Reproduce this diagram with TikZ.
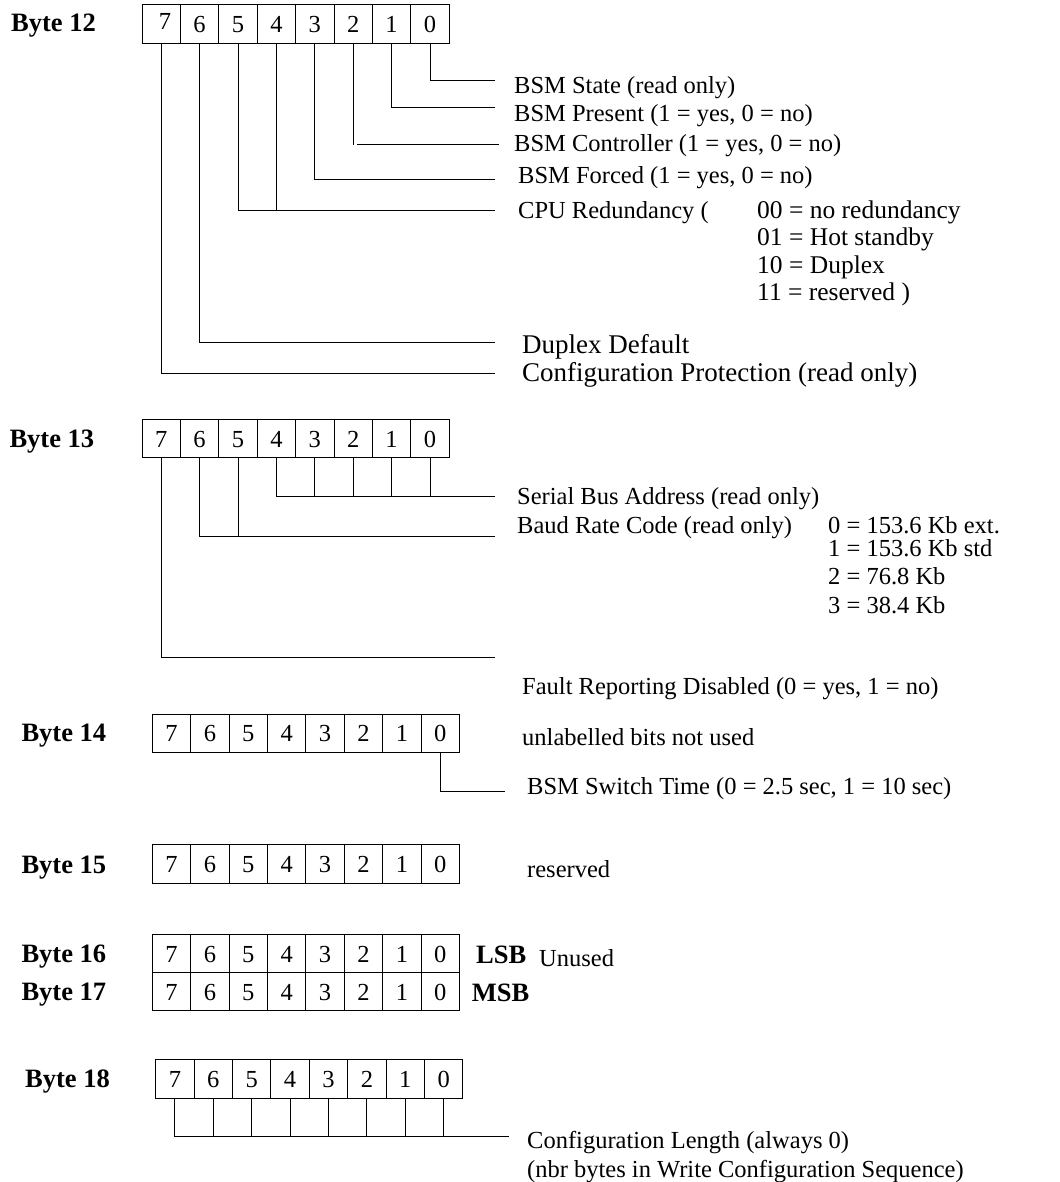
\documentclass[tikz,border=0pt]{standalone}
\usepackage{fontspec}
\setmainfont{Liberation Serif}
\newcommand\byterow[4]{%
  \foreach \i in {0,...,7}{%
    \pgfmathtruncatemacro\b{7-\i}%
    \ifnum\b=7
      \node[cell] (#1c\b) at ({#2+38.4*(\i+0.5)},#3) {#4};
    \else
      \node[cell] (#1c\b) at ({#2+38.4*(\i+0.5)},#3) {\b};
    \fi
  }}
\begin{document}
\begin{tikzpicture}[x=1pt,y=-1pt,
  cell/.style={draw, line width=1pt, minimum width=38.4pt, minimum height=38.3pt,
    inner sep=0pt, text height=17pt, text depth=0pt, font=\fontsize{24.5}{28}\selectfont},
  digit/.style={inner sep=0pt, text height=17pt, text depth=0pt, font=\fontsize{24.5}{28}\selectfont},
  lbl/.style={anchor=base west, inner sep=0pt, font=\fontsize{24.5}{28.8}\selectfont},
  lblc/.style={anchor=base west, inner sep=0pt, font=\fontsize{25.5}{28.8}\selectfont},
  lblb/.style={anchor=base west, inner sep=0pt, font=\fontsize{27}{28.8}\selectfont},
  blbl/.style={anchor=base west, inner sep=0pt, font=\fontsize{26.5}{30}\selectfont\bfseries},
  wire/.style={line width=1pt}]
\useasboundingbox (0,0) rectangle (1059,1182);

% ---------------- Byte 12 ----------------
\node[blbl] (n12) at (11,32) {Byte 12};
\byterow{b12}{142}{23.9}{}
\node[digit] (b12d7) at (165,21.5) {7};
\node[lbl] (t12a) at (514,94) {BSM State (read only)};
\node[lbl] (t12b) at (514,122) {BSM Present (1 = yes, 0 = no)};
\node[lbl] (t12c) at (514,152) {BSM Controller (1 = yes, 0 = no)};
\node[lbl] (t12d) at (518,184) {BSM Forced (1 = yes, 0 = no)};
\node[lbl] (t12e) at (518,219) {CPU Redundancy (};
\node[lblc] (t12e1) at (757,219) {00 = no redundancy};
\node[lblc] (t12e2) at (757,246) {01 = Hot standby};
\node[lblc] (t12e3) at (757,273) {10 = Duplex};
\node[lblc] (t12e4) at (757,300) {11 = reserved )};
\node[lblb] (t12f) at (522,353) {Duplex Default};
\node[lblb] (t12g) at (522,381) {Configuration Protection (read only)};
\coordinate (r12a) at (495,81);
\coordinate (r12b) at (495,108);
\coordinate (r12c) at (499,145);
\coordinate (r12cs) at (357,145);
\coordinate (r12d) at (495,179.7);
\coordinate (r12e) at (495,211);
\coordinate (r12f) at (495,342.7);
\coordinate (r12g) at (495,373.3);
\draw[wire] (b12c0.south) |- (r12a);
\draw[wire] (b12c1.south) |- (r12b);
\draw[wire] (b12c2.south) -- (b12c2.south |- r12c);
\draw[wire] (r12cs) -- (r12c);
\draw[wire] (b12c3.south) |- (r12d);
\draw[wire] (b12c5.south) |- (r12e);
\draw[wire] (b12c4.south) -- (b12c4.south |- r12e);
\draw[wire] (b12c6.south) |- (r12f);
\draw[wire] (b12c7.south) |- (r12g);

% ---------------- Byte 13 ----------------
\node[blbl] (n13) at (9.3,447) {Byte 13};
\byterow{b13}{142}{438.7}{7}
\node[lbl] (t13a) at (517,504) {Serial Bus Address (read only)};
\node[lbl] (t13b) at (517,533) {Baud Rate Code (read only)};
\node[lbl] (t13b1) at (828,533) {0 = 153.6 Kb ext.};
\node[lbl] (t13b2) at (828,556) {1 = 153.6 Kb std};
\node[lbl] (t13b3) at (828,584) {2 = 76.8 Kb};
\node[lbl] (t13b4) at (828,613) {3 = 38.4 Kb};
\node[lbl] (t13c) at (522,694) {Fault Reporting Disabled (0 = yes, 1 = no)};
\coordinate (r13a) at (495.3,496);
\coordinate (r13b) at (495.3,536.7);
\coordinate (r13c) at (495.3,657.7);
\draw[wire] (b13c4.south) |- (r13a);
\foreach \k in {3,2,1,0}{\draw[wire] (b13c\k.south) -- (b13c\k.south |- r13a);}
\draw[wire] (b13c6.south) |- (r13b);
\draw[wire] (b13c5.south) -- (b13c5.south |- r13b);
\draw[wire] (b13c7.south) |- (r13c);

% ---------------- Byte 14 ----------------
\node[blbl] (n14) at (21.3,741.7) {Byte 14};
\byterow{b14}{152.3}{733.2}{7}
\node[lbl] (t14a) at (522,745) {unlabelled bits not used};
\node[lbl] (t14b) at (527,794) {BSM Switch Time (0 = 2.5 sec, 1 = 10 sec)};
\coordinate (r14a) at (505.3,791.7);
\draw[wire] (b14c0.south) |- (r14a);

% ---------------- Byte 15 ----------------
\node[blbl] (n15) at (21.3,873.3) {Byte 15};
\byterow{b15}{152.3}{864}{7}
\node[lbl] (t15) at (527,877.3) {reserved};

% ---------------- Byte 16 / 17 ----------------
\node[blbl] (n16) at (21.3,962.3) {Byte 16};
\byterow{b16}{152.3}{953.5}{7}
\node[blbl] (n17) at (21.3,1000.7) {Byte 17};
\byterow{b17}{152.3}{991.8}{7}
\node[blbl] (lsb) at (476,963) {LSB};
\node[blbl] (msb) at (471.7,1001.7) {MSB};
\node[lbl] (t16) at (539,966) {Unused};

% ---------------- Byte 18 ----------------
\node[blbl] (n18) at (25,1087.7) {Byte 18};
\byterow{b18}{155.7}{1078.9}{7}
\node[lbl] (t18a) at (527,1148.5) {Configuration Length (always 0)};
\node[lbl] (t18b) at (527,1177.5) {(nbr bytes in Write Configuration Sequence)};
\coordinate (r18a) at (508.7,1136.3);
\draw[wire] (b18c7.south) |- (r18a);
\foreach \k in {6,...,0}{\draw[wire] (b18c\k.south) -- (b18c\k.south |- r18a);}
\end{tikzpicture}
\end{document}
